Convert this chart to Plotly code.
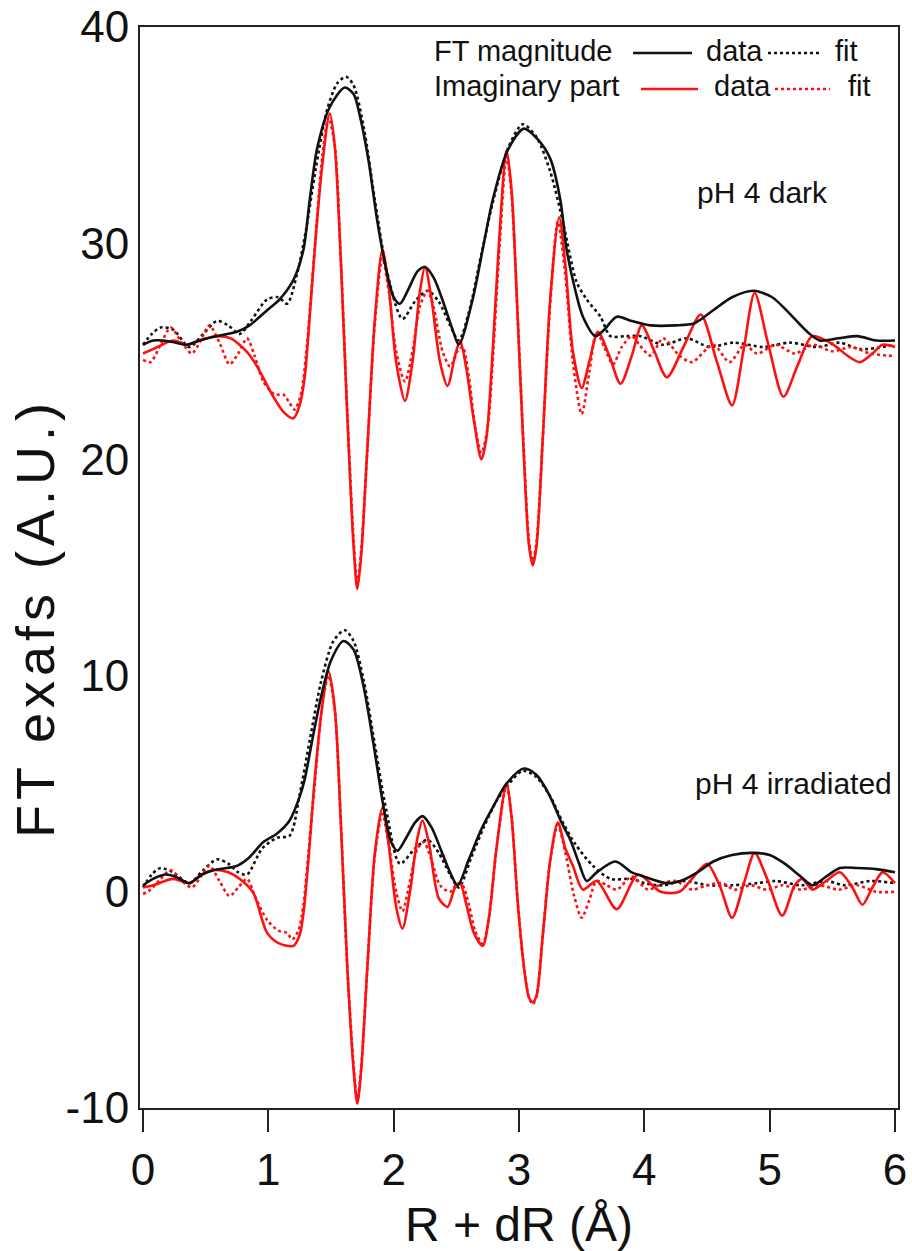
import plotly.graph_objects as go

# ---------------- data ----------------
# pH 4 dark : FT magnitude, data
mag_dark_data_x = [0.00, 0.08, 0.16, 0.26, 0.35, 0.45, 0.59, 0.75, 0.85, 0.99, 1.09, 1.20, 1.28, 1.33, 1.39, 1.49,
                   1.61, 1.68, 1.73, 1.80, 1.87, 1.94, 2.00, 2.05, 2.12, 2.19, 2.25, 2.32, 2.40, 2.47, 2.52, 2.63,
                   2.71, 2.79, 2.91, 3.04, 3.15, 3.25, 3.33, 3.38, 3.45, 3.51, 3.61, 3.68, 3.78, 3.90, 4.05, 4.25,
                   4.40, 4.55, 4.70, 4.87, 5.02, 5.15, 5.30, 5.40, 5.55, 5.70, 5.85, 6.00]
mag_dark_data_y = [25.3, 25.5, 25.5, 25.4, 25.3, 25.5, 25.7, 25.9, 26.2, 26.9, 27.4, 28.3, 29.7, 32.0, 34.4, 36.3,
                   37.2, 36.9, 35.9, 33.8, 31.0, 28.8, 27.5, 27.2, 27.9, 28.7, 28.9, 28.4, 27.2, 26.0, 25.3, 27.4,
                   29.7, 32.0, 34.3, 35.3, 34.8, 33.9, 32.0, 29.7, 27.8, 26.6, 25.7, 26.0, 26.6, 26.4, 26.2, 26.2,
                   26.3, 26.9, 27.5, 27.8, 27.5, 26.8, 25.9, 25.5, 25.6, 25.7, 25.5, 25.5]

# pH 4 dark : FT magnitude, fit
mag_dark_fit_x = [0.00, 0.07, 0.14, 0.24, 0.37, 0.48, 0.59, 0.68, 0.77, 0.86, 0.99, 1.08, 1.15, 1.23, 1.30, 1.38,
                  1.47, 1.55, 1.62, 1.68, 1.76, 1.85, 1.95, 2.07, 2.17, 2.27, 2.36, 2.45, 2.52, 2.60, 2.70, 2.80,
                  2.92, 3.03, 3.14, 3.25, 3.35, 3.46, 3.54, 3.65, 3.73, 3.85, 3.97, 4.15, 4.34, 4.52, 4.71, 4.95,
                  5.16, 5.38, 5.56, 5.72, 6.00]
mag_dark_fit_y = [25.3, 25.8, 26.1, 26.0, 25.2, 25.8, 26.4, 26.2, 25.8, 26.4, 27.4, 27.5, 27.2, 28.6, 30.6, 33.5,
                  36.2, 37.4, 37.7, 37.3, 35.4, 32.0, 28.6, 26.5, 27.3, 27.8, 27.3, 26.2, 25.5, 26.8, 29.5, 32.1,
                  34.5, 35.5, 34.9, 33.3, 31.0, 28.2, 27.4, 26.6, 25.7, 25.7, 25.7, 25.3, 25.6, 25.2, 25.4, 25.2,
                  25.4, 25.2, 25.4, 25.1, 25.3]

# pH 4 dark : imaginary part, data
imag_dark_data_x = [0.00, 0.08, 0.24, 0.35, 0.45, 0.59, 0.70, 0.77, 0.84, 0.91, 1.04, 1.12, 1.20, 1.25, 1.29, 1.33,
                    1.37, 1.43, 1.49, 1.53, 1.58, 1.63, 1.68, 1.71, 1.74, 1.79, 1.85, 1.91, 1.96, 2.02, 2.09, 2.15,
                    2.21, 2.25, 2.30, 2.37, 2.43, 2.49, 2.53, 2.58, 2.64, 2.70, 2.74, 2.79, 2.84, 2.90, 2.94, 2.99,
                    3.04, 3.08, 3.11, 3.14, 3.19, 3.25, 3.32, 3.37, 3.43, 3.50, 3.56, 3.63, 3.72, 3.81, 3.90, 3.98,
                    4.08, 4.18, 4.32, 4.45, 4.58, 4.70, 4.79, 4.88, 4.99, 5.11, 5.22, 5.34, 5.51, 5.62, 5.72, 5.82,
                    5.90, 6.00]
imag_dark_data_y = [24.9, 25.1, 25.5, 25.3, 25.5, 25.7, 25.6, 25.3, 24.9, 24.3, 22.9, 22.2, 21.9, 22.5, 23.8, 26.6,
                    29.7, 33.6, 36.0, 34.5, 29.0, 22.0, 16.0, 14.0, 15.5, 20.5, 26.5, 29.7, 28.0, 24.5, 22.7, 24.5,
                    27.8, 28.9, 27.5, 24.5, 23.4, 24.8, 25.5, 24.2, 21.8, 20.0, 21.0, 25.0, 30.0, 34.3, 32.5, 26.5,
                    20.0, 16.0, 15.1, 16.0, 21.0, 27.5, 31.2, 29.0, 25.0, 23.3, 24.5, 25.9, 24.8, 23.5, 24.8, 26.2,
                    25.0, 23.8, 25.3, 26.7, 24.5, 22.5, 25.0, 27.7, 25.3, 22.9, 24.3, 25.7, 25.3, 24.8, 24.5, 24.9,
                    25.3, 25.2]

# pH 4 dark : imaginary part, fit
imag_dark_fit_x = [0.00, 0.06, 0.14, 0.22, 0.31, 0.39, 0.46, 0.53, 0.61, 0.69, 0.76, 0.83, 0.89, 0.96, 1.05, 1.12,
                   1.17, 1.21, 1.26, 1.30, 1.34, 1.38, 1.43, 1.48, 1.53, 1.58, 1.63, 1.68, 1.71, 1.74, 1.79, 1.85,
                   1.91, 1.96, 2.02, 2.09, 2.15, 2.21, 2.27, 2.32, 2.39, 2.45, 2.51, 2.55, 2.60, 2.65, 2.70, 2.75,
                   2.80, 2.85, 2.90, 2.94, 2.99, 3.04, 3.08, 3.11, 3.14, 3.19, 3.25, 3.31, 3.37, 3.43, 3.50, 3.56,
                   3.62, 3.68, 3.75, 3.82, 3.90, 3.96, 4.05, 4.15, 4.28, 4.38, 4.55, 4.68, 4.80, 4.90, 5.05, 5.20,
                   5.35, 5.50, 5.65, 5.80, 5.95, 6.00]
imag_dark_fit_y = [24.6, 24.5, 25.3, 26.1, 25.4, 24.9, 25.5, 26.2, 25.4, 24.4, 24.9, 25.6, 24.8, 23.6, 23.0, 23.0,
                   22.6, 22.3, 23.0, 24.8, 27.5, 30.5, 34.0, 35.8, 34.5, 29.0, 22.2, 16.3, 14.3, 15.7, 20.5, 26.3,
                   29.3, 27.8, 25.0, 23.6, 25.0, 27.1, 27.8, 27.0, 25.0, 24.3, 25.0, 25.2, 23.8, 21.5, 20.3, 21.5,
                   25.5, 30.3, 34.0, 32.3, 26.5, 20.2, 16.2, 15.3, 16.2, 21.0, 27.3, 31.0, 28.5, 24.5, 22.1, 24.0,
                   25.9, 25.2, 24.4, 25.2, 25.7, 25.3, 24.8, 25.6, 24.8, 24.5, 25.3, 24.5, 25.3, 24.9, 25.3, 24.9,
                   25.3, 25.0, 25.2, 24.9, 24.8, 24.8]

# pH 4 irradiated : FT magnitude, data
mag_irr_data_x = [0.00, 0.08, 0.18, 0.26, 0.37, 0.47, 0.56, 0.67, 0.75, 0.85, 0.96, 1.07, 1.17, 1.25, 1.29, 1.35,
                  1.42, 1.50, 1.60, 1.68, 1.76, 1.84, 1.92, 1.98, 2.03, 2.10, 2.17, 2.23, 2.30, 2.38, 2.45, 2.51,
                  2.60, 2.70, 2.80, 2.90, 3.04, 3.14, 3.24, 3.34, 3.41, 3.48, 3.54, 3.62, 3.77, 3.90, 4.00, 4.18,
                  4.31, 4.45, 4.55, 4.70, 4.87, 5.00, 5.12, 5.25, 5.34, 5.45, 5.56, 5.70, 5.85, 6.00]
mag_irr_data_y = [0.3, 0.6, 0.8, 0.7, 0.4, 0.8, 1.0, 1.1, 1.2, 1.6, 2.3, 2.7, 3.3, 4.4, 5.2, 7.0,
                  9.0, 10.7, 11.6, 11.2, 9.5, 6.8, 3.9, 2.3, 1.9, 2.5, 3.2, 3.5, 3.0, 1.9, 0.9, 0.3,
                  1.5, 2.9, 4.0, 5.0, 5.7, 5.4, 4.5, 3.2, 2.4, 1.3, 0.5, 0.9, 1.4, 0.9, 0.7, 0.4,
                  0.55, 1.0, 1.4, 1.7, 1.8, 1.7, 1.3, 0.7, 0.3, 0.7, 1.1, 1.1, 1.05, 0.9]

# pH 4 irradiated : FT magnitude, fit
mag_irr_fit_x = [0.00, 0.07, 0.14, 0.24, 0.37, 0.48, 0.59, 0.68, 0.76, 0.83, 0.95, 1.07, 1.17, 1.25, 1.33, 1.42,
                 1.52, 1.61, 1.68, 1.76, 1.85, 1.94, 2.05, 2.17, 2.27, 2.36, 2.45, 2.52, 2.62, 2.72, 2.82, 2.92,
                 3.03, 3.14, 3.25, 3.35, 3.45, 3.59, 3.73, 3.90, 4.00, 4.15, 4.30, 4.52, 4.70, 4.90, 5.05, 5.25,
                 5.45, 5.60, 5.80, 6.00]
mag_irr_fit_y = [0.2, 0.8, 1.1, 0.9, 0.4, 1.0, 1.5, 1.3, 0.9, 0.8, 2.0, 2.5, 2.6, 4.5, 7.0, 9.7,
                 11.6, 12.1, 11.6, 9.8, 6.8, 3.8, 1.3, 2.0, 2.4, 1.8, 0.8, 0.2, 1.6, 3.0, 4.2, 5.0,
                 5.6, 5.3, 4.4, 3.2, 2.2, 1.2, 0.6, 0.6, 0.4, 0.3, 0.5, 0.3, 0.3, 0.4, 0.5, 0.3,
                 0.5, 0.3, 0.5, 0.4]

# pH 4 irradiated : imaginary part, data
imag_irr_data_x = [0.00, 0.08, 0.24, 0.37, 0.47, 0.56, 0.68, 0.77, 0.88, 0.99, 1.09, 1.20, 1.25, 1.28, 1.32, 1.37,
                   1.43, 1.48, 1.53, 1.58, 1.63, 1.68, 1.71, 1.74, 1.79, 1.85, 1.91, 1.96, 2.02, 2.07, 2.13, 2.19,
                   2.23, 2.28, 2.36, 2.43, 2.49, 2.53, 2.58, 2.64, 2.71, 2.76, 2.82, 2.90, 2.94, 2.99, 3.04, 3.08,
                   3.11, 3.14, 3.19, 3.25, 3.31, 3.37, 3.43, 3.51, 3.62, 3.78, 3.95, 4.13, 4.28, 4.38, 4.50, 4.60,
                   4.70, 4.80, 4.88, 4.98, 5.10, 5.20, 5.26, 5.34, 5.45, 5.56, 5.66, 5.74, 5.82, 5.90, 6.00]
imag_irr_data_y = [0.2, 0.3, 0.6, 0.4, 0.8, 1.0, 0.9, 0.6, -0.05, -1.9, -2.4, -2.5, -2.0, -1.0, 1.5, 5.2,
                   8.6, 10.2, 8.5, 3.0, -3.5, -8.2, -9.8, -8.3, -3.5, 1.8, 3.9, 2.2, -0.7, -1.7, 0.0, 2.5,
                   3.3, 2.3, -0.3, -0.7, 0.2, 0.4, -0.6, -1.9, -2.5, -1.2, 2.0, 5.0, 3.5, -0.5, -3.5, -4.9,
                   -5.1, -4.8, -2.0, 1.5, 3.2, 2.0, 1.2, 0.1, 0.5, -0.8, 0.8, 0.0, 0.0, 0.6, 1.3, 0.3,
                   -1.2, 0.5, 1.8, 0.6, -1.1, 0.3, 0.6, 0.1, 0.5, 0.9, 0.2, -0.6, 0.2, 0.9, 0.4]

# pH 4 irradiated : imaginary part, fit
imag_irr_fit_x = [0.00, 0.06, 0.14, 0.22, 0.31, 0.39, 0.46, 0.53, 0.61, 0.69, 0.76, 0.83, 0.90, 0.99, 1.08, 1.15,
                  1.19, 1.24, 1.28, 1.32, 1.37, 1.43, 1.48, 1.53, 1.58, 1.63, 1.68, 1.71, 1.74, 1.79, 1.85, 1.91,
                  1.96, 2.02, 2.07, 2.13, 2.19, 2.24, 2.30, 2.37, 2.45, 2.51, 2.55, 2.60, 2.65, 2.71, 2.76, 2.82,
                  2.90, 2.94, 2.99, 3.04, 3.08, 3.11, 3.14, 3.19, 3.25, 3.31, 3.37, 3.44, 3.50, 3.56, 3.62, 3.70,
                  3.78, 3.90, 4.03, 4.15, 4.25, 4.38, 4.50, 4.62, 4.72, 4.85, 4.98, 5.10, 5.25, 5.40, 5.55, 5.70,
                  5.85, 6.00]
imag_irr_fit_y = [-0.1, 0.1, 0.6, 1.0, 0.5, 0.2, 0.7, 1.2, 0.5, -0.2, 0.2, 0.6, -0.3, -1.3, -1.8, -1.9,
                  -2.2, -1.8, -0.6, 1.8, 5.0, 8.6, 10.0, 8.4, 3.0, -3.5, -8.0, -9.6, -8.2, -3.5, 1.7, 3.6,
                  2.2, 0.0, -0.9, 0.5, 2.0, 2.3, 1.5, 0.3, 0.0, 0.4, 0.3, -0.6, -1.8, -2.4, -1.2, 2.0,
                  4.9, 3.5, -0.5, -3.5, -4.9, -5.2, -4.8, -2.0, 1.5, 3.1, 1.8, -0.2, -1.2, -0.4, 0.5, 0.3,
                  0.1, 0.7, 0.1, 0.4, 0.5, 0.1, 0.3, 0.4, 0.1, 0.3, 0.1, 0.3, 0.1, 0.3, 0.1, 0.3,
                  0.0, 0.0]

x_tick_vals = [0, 1, 2, 3, 4, 5, 6]
x_tick_text = ["0", "1", "2", "3", "4", "5", "6"]
y_tick_vals = [-10, 0, 10, 20, 30, 40]
y_tick_text = ["-10", "0", "10", "20", "30", "40"]
sample_labels = ["pH 4 dark", "pH 4 irradiated"]
sample_label_pos = [(4.94, 32.35), (5.19, 5.0)]
x_title = "R + dR (Å)"
y_title = "FT exafs (A.U.)"

# ---------------- styling ----------------
FONT = "Liberation Sans, Arial, Helvetica, sans-serif"
BLACK = "#111111"
RED = "#ff1010"
LW = 2.6
DOT = "3px,3px"

fig = go.Figure()

series = [
    (mag_dark_fit_x, mag_dark_fit_y, BLACK, DOT),
    (imag_dark_fit_x, imag_dark_fit_y, RED, DOT),
    (mag_irr_fit_x, mag_irr_fit_y, BLACK, DOT),
    (imag_irr_fit_x, imag_irr_fit_y, RED, DOT),
    (imag_dark_data_x, imag_dark_data_y, RED, "solid"),
    (imag_irr_data_x, imag_irr_data_y, RED, "solid"),
    (mag_dark_data_x, mag_dark_data_y, BLACK, "solid"),
    (mag_irr_data_x, mag_irr_data_y, BLACK, "solid"),
]
for xs, ys, col, dash in series:
    fig.add_trace(go.Scatter(x=xs, y=ys, mode="lines",
                             line=dict(color=col, width=LW, dash=dash, shape="spline", smoothing=0.8),
                             showlegend=False, hoverinfo="skip"))

# sample labels
for txt, (lx, ly) in zip(sample_labels, sample_label_pos):
    fig.add_annotation(x=lx, y=ly, xref="x", yref="y", text=txt, showarrow=False,
                       xanchor="center", yanchor="middle",
                       font=dict(family=FONT, size=30, color="#111"))

# custom legend (text + sample lines, paper coordinates)
def px2paper_x(px):
    return (px - 140) / 758.0

def px2paper_y(py):
    return (1108 - py) / 1081.0

# label, colour, text-centre py, line py, solid seg, data px, dotted seg, fit px
legend_rows = [
    ("FT magnitude", BLACK, 51, 53, (633, 692), 705, (768, 822), 834),
    ("Imaginary part", RED, 86, 89, (641, 698), 713, (775, 830), 847),
]
for label, col, ty, ly, solid_seg, data_px, dot_seg, fit_px in legend_rows:
    yy = px2paper_y(ty)
    yl = px2paper_y(ly)
    for txt, lx in ((label, 433), ("data", data_px), ("fit", fit_px)):
        fig.add_annotation(x=px2paper_x(lx), y=yy, xref="paper", yref="paper", text=txt,
                           showarrow=False, xanchor="left", yanchor="middle", borderpad=0,
                           font=dict(family=FONT, size=29, color="#111"))
    fig.add_shape(type="line", xref="paper", yref="paper",
                  x0=px2paper_x(solid_seg[0]), x1=px2paper_x(solid_seg[1]), y0=yl, y1=yl,
                  line=dict(color=col, width=LW))
    fig.add_shape(type="line", xref="paper", yref="paper",
                  x0=px2paper_x(dot_seg[0]), x1=px2paper_x(dot_seg[1]), y0=yl, y1=yl,
                  line=dict(color=col, width=LW, dash=DOT))

# y-axis title (placed as rotated text so it can sit where the reference has it)
fig.add_annotation(x=px2paper_x(35), y=px2paper_y(618), xref="paper", yref="paper",
                   text='<span style="letter-spacing:5px">' + y_title + '</span>',
                   textangle=-90, showarrow=False, xanchor="center", yanchor="middle",
                   font=dict(family=FONT, size=54, color="#111"))

fig.update_layout(
    width=912, height=1251,
    margin=dict(l=140, r=14, t=27, b=143, autoexpand=False),
    paper_bgcolor="white", plot_bgcolor="white",
    font=dict(family=FONT, color="#111"),
    showlegend=False,
)
fig.update_xaxes(range=[-0.024, 6.024], tickvals=x_tick_vals, ticktext=x_tick_text,
                 ticks="outside", ticklen=22, automargin=False,
                 tickwidth=2, tickcolor="#222", showline=True, linewidth=2, linecolor="#222",
                 mirror=True, showgrid=False, zeroline=False,
                 tickfont=dict(family=FONT, size=44, color="#111"),
                 title=dict(text=x_title, font=dict(family=FONT, size=48, color="#111"), standoff=16))
fig.update_yaxes(range=[-10, 40], tickvals=y_tick_vals, ticktext=y_tick_text, ticks="",
                 showline=True, linewidth=2, automargin=False,
                 linecolor="#222", mirror=True, showgrid=False, zeroline=False,
                 tickfont=dict(family=FONT, size=44, color="#111"))

fig.write_html("out.html")
